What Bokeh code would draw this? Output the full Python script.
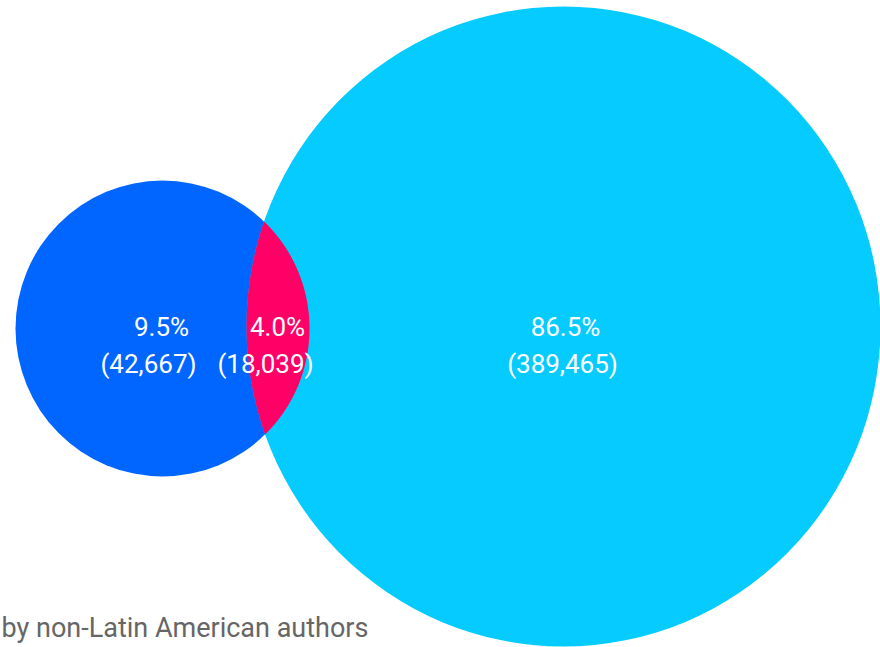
from bokeh.plotting import figure
from bokeh.models import Range1d, ColumnDataSource
from bokeh.core.properties import value
from bokeh.embed import file_html
from bokeh.resources import INLINE
import numpy as np

# ---- data ----
regions = ["Latin American only", "Both", "non-Latin American only"]
counts = [42667, 18039, 389465]
set_labels = ["by Latin American authors", "by non-Latin American authors"]

total = sum(counts)
pct_labels = [f"{100 * c / total:.1f}%" for c in counts]
count_labels = [f"({c:,})" for c in counts]

# ---- layout (screen pixel coordinates) ----
W, H = 880, 647
shape_x = [162, 563]
shape_y = [328, 326]
shape_rx = [147, 317]
shape_ry = [148, 320]
shape_colors = ["#0066FF", "#06CBFF"]
lens_color = "#FF0066"

label_x1 = [161, 277, 565]
label_x2 = [148, 265, 562]
label_y1 = 326
label_y2 = 363

p = figure(width=W, height=H, output_backend="svg", toolbar_location=None,
           x_range=Range1d(0, W), y_range=Range1d(H, 0),
           x_axis_type=None, y_axis_type=None, min_border=0)
p.grid.visible = False
p.outline_line_color = None
p.background_fill_color = "white"
p.border_fill_color = "white"

p.ellipse(x=shape_x, y=shape_y, width=[2 * r for r in shape_rx],
          height=[2 * r for r in shape_ry], fill_color=shape_colors,
          line_color=None)

# intersection lens (numerical)
def inside(px, py, i):
    return ((px - shape_x[i]) / shape_rx[i]) ** 2 + ((py - shape_y[i]) / shape_ry[i]) ** 2 <= 1

t = np.linspace(-np.pi, np.pi, 4000)
# arc of shape 0 (right side) inside shape 1
x0 = shape_x[0] + shape_rx[0] * np.cos(t)
y0 = shape_y[0] + shape_ry[0] * np.sin(t)
m0 = inside(x0, y0, 1)
# arc of shape 1 (left side) inside shape 0
t2 = np.linspace(0, 2 * np.pi, 4000)
x1 = shape_x[1] + shape_rx[1] * np.cos(t2)
y1 = shape_y[1] + shape_ry[1] * np.sin(t2)
m1 = inside(x1, y1, 0)
xs = np.concatenate([x0[m0], x1[m1]])
ys = np.concatenate([y0[m0], y1[m1]])
p.patch(xs, ys, fill_color=lens_color, line_color=None)

src1 = ColumnDataSource(dict(x=label_x1, y=[label_y1] * 3, t=pct_labels))
src2 = ColumnDataSource(dict(x=label_x2, y=[label_y2] * 3, t=count_labels))
for s in (src1, src2):
    p.text(x="x", y="y", text="t", source=s, text_font=value("Roboto"),
           text_font_size="26px", text_color="white", text_align="center",
           text_baseline="alphabetic")

p.text(x=[1], y=[627], text=[set_labels[1]], text_font=value("Roboto"),
       text_font_size="27px", text_color="#666666", text_align="left",
       text_baseline="alphabetic")

open("out.html", "w").write(file_html(p, INLINE))
